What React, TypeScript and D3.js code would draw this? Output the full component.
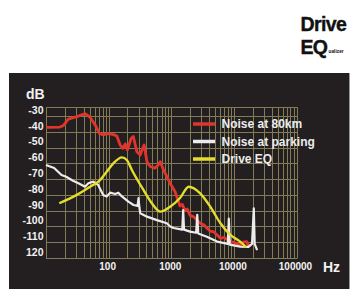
import React, { useEffect, useRef } from 'react';
import * as d3 from 'd3';

// Noise at 80km (red)
const red80Freq = [10, 16.7, 19, 22.7, 31, 39.5, 42, 50.6, 60.9, 71, 82, 95, 106, 120, 135, 153, 169, 184, 200, 229, 248, 282, 319, 345, 369, 409, 461, 552, 620, 666, 750, 903, 958, 1150, 1380, 1500, 1660, 1800, 2000, 2300, 2900, 3300, 4200, 4800, 6100, 7000, 8800, 10500, 12600, 14000, 16000, 17200, 18500];
const red80Db = [-42.2, -42, -41, -37, -35.4, -34, -33.5, -35.8, -40.7, -46, -47, -46.2, -46.4, -46.8, -47.7, -53.4, -55.5, -52.7, -56.5, -49.1, -48, -57.6, -59.7, -56, -53.4, -64, -67, -68, -66, -64, -69, -75.6, -77.6, -83, -92, -91, -95, -94, -98, -99, -103, -104, -108, -108.5, -112.5, -112, -114.5, -115.5, -116.7, -115, -114.6, -117.5, -117];

// Noise at parking (white)
const parkFreq = [10, 13.5, 17.7, 21, 27, 33, 42, 47.5, 57, 68, 75, 82, 93, 106, 127, 143, 163, 207, 250, 290, 300, 310, 320, 410, 590, 850, 960, 1090, 1300, 1500, 1550, 1600, 2000, 2500, 2600, 2700, 3700, 5400, 8000, 8300, 8600, 12600, 17000, 19500, 20800, 21500, 23500];
const parkDb = [-66, -68, -72.4, -73.5, -76, -77.6, -79.8, -77.6, -76.6, -78.7, -82, -85, -86, -83.6, -84.4, -83.6, -86, -89.3, -91.4, -92, -87, -93, -96.7, -98.8, -101, -103, -105, -106, -106.5, -107, -94.6, -107, -108.3, -109, -97.7, -109.5, -111.5, -114.6, -116, -100, -116.5, -117.8, -118, -116, -93.5, -116, -120];

// Drive EQ (yellow)
const eqFreq = [16.3, 31, 50.6, 73, 93, 119, 163, 195, 235, 360, 490, 666, 960, 1380, 1900, 2900, 4200, 6100, 8800, 12600, 15800];
const eqDb = [-90.3, -85, -79.8, -75.6, -70.3, -65, -61.2, -62.9, -69.2, -81.9, -90.3, -95.6, -92.5, -87, -79.8, -84, -92.5, -103, -110.4, -114.6, -118.2];

const dbTicks = [-30, -40, -50, -60, -70, -80, -90, -100, -110, -120];
const dbTickLabels = ['-30', '-40', '-50', '-60', '-70', '-80', '-90', '-100', '-110', '120'];
const dbGrid = [-35, -45, -55, -65, -75, -85, -95, -105, -115, -125];
const hzTicks = [100, 1000, 10000, 100000];
const hzTickLabels = ['100', '1000', '10000', '100000'];

const legendLabels = ['Noise at 80km', 'Noise at parking', 'Drive EQ'];
const legendColors = ['#e3342b', '#ececec', '#e4dd2c'];

const FONT = '"Liberation Sans", Arial, sans-serif';

const App: React.FC = () => {
    const svgRef = useRef<SVGSVGElement>(null);

    useEffect(() => {
        if (!svgRef.current) return;
        const svg = d3.select(svgRef.current);
        svg.selectAll('*').remove();

        const xScale = d3.scaleLog().domain([10, 100000]).range([46, 296.5]);
        const yScale = d3.scaleLinear().domain([-125, -35]).range([258, 116]);
        const plotTop = yScale(-29.5);
        const plotBottom = yScale(-125);

        // logo
        const logo = svg.append('g').attr('font-family', FONT).attr('font-weight', 'bold')
            .attr('fill', '#111').attr('stroke', '#111').attr('stroke-width', 0.4);
        logo.append('text').attr('x', 300.5).attr('y', 30.7).attr('font-size', 19.5)
            .attr('letter-spacing', -0.6).text('Drive');
        logo.append('text').attr('x', 300.5).attr('y', 53.5).attr('font-size', 19.5)
            .attr('letter-spacing', -0.8).text('EQ');
        logo.append('text').attr('x', 328.5).attr('y', 53.2).attr('font-size', 4.8)
            .attr('stroke-width', 0).text('ualizer');

        // dark panel
        svg.append('rect').attr('x', 9).attr('y', 73).attr('width', 340).attr('height', 216).attr('fill', '#231f20');
        svg.append('line').attr('x1', 349.5).attr('x2', 349.5).attr('y1', 73).attr('y2', 289)
            .attr('stroke', '#9a9a9a').attr('stroke-width', 1);

        const g = svg.append('g');
        const gridColor = '#817c55';

        // vertical grid (log)
        const vLines: number[] = [];
        for (let dec = 10; dec < 100000; dec *= 10) {
            for (let k = 1; k <= 9; k++) vLines.push(dec * k);
        }
        vLines.push(100000);
        g.selectAll('.vgrid')
            .data(vLines)
            .enter()
            .append('line')
            .attr('x1', d => Math.round(xScale(d)) + 0.5)
            .attr('x2', d => Math.round(xScale(d)) + 0.5)
            .attr('y1', plotTop)
            .attr('y2', plotBottom)
            .attr('stroke', gridColor)
            .attr('stroke-width', 1);

        // horizontal grid
        g.selectAll('.hgrid')
            .data([-29.5, ...dbGrid])
            .enter()
            .append('line')
            .attr('x1', xScale(10))
            .attr('x2', xScale(100000) + 1)
            .attr('y1', d => Math.round(yScale(d)) + 0.5)
            .attr('y2', d => Math.round(yScale(d)) + 0.5)
            .attr('stroke', gridColor)
            .attr('stroke-width', 1);

        // axis labels
        const labels = svg.append('g').attr('font-family', FONT).attr('font-weight', 'bold').attr('fill', '#f2f2f2');
        labels.selectAll('.ytick')
            .data(dbTicks)
            .enter()
            .append('text')
            .attr('x', 43.5)
            .attr('y', d => yScale(d) + 3)
            .attr('text-anchor', 'end')
            .attr('dominant-baseline', 'middle')
            .attr('font-size', 10.5)
            .text((d, i) => dbTickLabels[i]);
        labels.selectAll('.xtick')
            .data(hzTicks)
            .enter()
            .append('text')
            .attr('x', d => xScale(d) - 1)
            .attr('y', 270)
            .attr('text-anchor', 'middle')
            .attr('font-size', 10)
            .text((d, i) => hzTickLabels[i]);
        labels.append('text').attr('x', 26).attr('y', 98.5).attr('font-size', 14).text('dB');
        labels.append('text').attr('x', 323).attr('y', 271.7).attr('font-size', 14).text('Hz');

        // curves
        const series = [
            { f: red80Freq, v: red80Db, color: legendColors[0], w: 2.8, curve: d3.curveLinear },
            { f: parkFreq, v: parkDb, color: legendColors[1], w: 2.2, curve: d3.curveLinear },
            { f: eqFreq, v: eqDb, color: legendColors[2], w: 2.4, curve: d3.curveMonotoneX },
        ];
        series.forEach(s => {
            const line = d3.line<number>()
                .x((d, i) => xScale(s.f[i]))
                .y(d => yScale(d))
                .curve(s.curve);
            g.append('path')
                .datum(s.v)
                .attr('d', line)
                .attr('fill', 'none')
                .attr('stroke', s.color)
                .attr('stroke-width', s.w)
                .attr('stroke-linejoin', 'round');
        });

        // legend
        const legend = svg.append('g');
        const legendY = [124, 141.5, 159];
        legendLabels.forEach((label, i) => {
            legend.append('line')
                .attr('x1', 193).attr('x2', 215)
                .attr('y1', legendY[i]).attr('y2', legendY[i])
                .attr('stroke', legendColors[i]).attr('stroke-width', 3.5);
            legend.append('text')
                .attr('x', 221.5).attr('y', legendY[i] + 4.3)
                .attr('font-family', FONT).attr('font-weight', 'bold')
                .attr('font-size', 12).attr('fill', '#ececec')
                .text(label);
        });
    }, []);

    return (
        <div style={{ position: 'fixed', left: 0, top: 0, width: 353, height: 289, background: '#fff' }}>
            <svg ref={svgRef} width={353} height={289} style={{ display: 'block' }} />
        </div>
    );
};

export default App;
